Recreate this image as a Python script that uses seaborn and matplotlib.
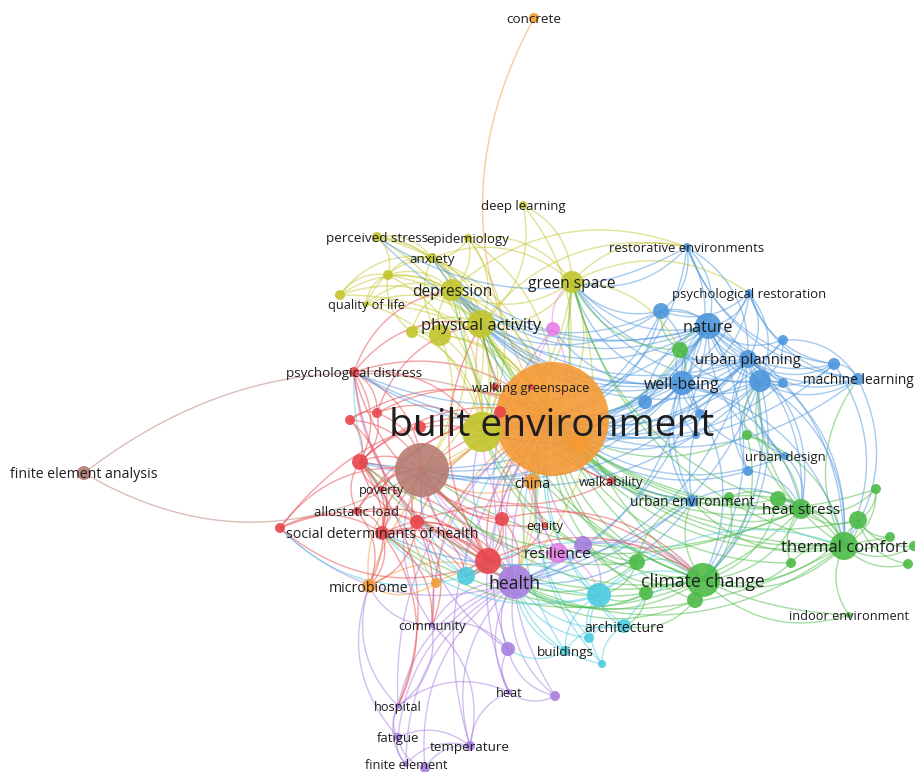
import numpy as np
import pandas as pd
import matplotlib
matplotlib.use("Agg")
import matplotlib.pyplot as plt
from matplotlib.collections import LineCollection
import seaborn as sns

# ---- keyword co-occurrence map: nodes per cluster (id, label, x, y, weight) ----
orange_nodes = [
    ("be", "built environment", 552, 419, 57),
    ("concrete", "concrete", 534, 18, 5),
    ("china", "china", 532, 482, 8),
    ("o1", "", 578, 443, 10),
    ("microbiome", "microbiome", 369, 586, 7),
    ("o2", "", 436, 583, 5),
]
yellow_nodes = [
    ("pa", "physical activity", 481, 324, 14),
    ("y1", "", 440, 335, 11),
    ("y2", "", 412, 332, 6),
    ("dep", "depression", 452, 290, 11),
    ("gs", "green space", 572, 282, 11),
    ("anx", "anxiety", 432, 258, 5),
    ("ps", "perceived stress", 377, 237, 5),
    ("epi", "epidemiology", 468, 238, 4),
    ("dl", "deep learning", 523, 205, 4),
    ("y3", "", 388, 275, 5),
    ("y4", "", 340, 295, 5),
    ("qol", "quality of life", 366, 304, 3),
    ("y5", "", 482, 432, 20),
]
pink_nodes = [
    ("p1", "", 553, 329, 7),
    ("res", "resilience", 558, 553, 10),
]
brown_nodes = [
    ("br", "", 422, 470, 27),
    ("fea", "finite element analysis", 84, 473, 7),
]
red_nodes = [
    ("pd", "psychological distress", 354, 372, 5),
    ("wg", "walking greenspace", 531, 387, 3),
    ("r0", "", 495, 387, 4),
    ("r1", "", 377, 413, 5),
    ("r2", "", 350, 420, 5),
    ("r3", "", 360, 462, 8),
    ("pov", "poverty", 381, 489, 3),
    ("al", "allostatic load", 357, 511, 4),
    ("sdh", "social determinants of health", 382, 533, 7),
    ("r4", "", 280, 528, 5),
    ("r5", "", 417, 522, 7),
    ("r6", "", 502, 519, 7),
    ("r7", "", 500, 412, 6),
    ("r8", "", 420, 427, 6),
    ("walk", "walkability", 611, 481, 4),
    ("equity", "equity", 545, 525, 3),
    ("r9", "", 488, 561, 13),
]
purple_nodes = [
    ("health", "health", 515, 582, 17),
    ("v1", "", 583, 545, 9),
    ("comm", "community", 432, 625, 3),
    ("v2", "", 508, 649, 7),
    ("heat", "heat", 509, 692, 3),
    ("v3", "", 555, 696, 5),
    ("hosp", "hospital", 398, 706, 3),
    ("fat", "fatigue", 398, 737, 4),
    ("temp", "temperature", 470, 746, 5),
    ("fe", "finite element", 406, 764, 3),
    ("v4", "", 425, 768, 5),
]
cyan_nodes = [
    ("c1", "", 466, 576, 9),
    ("c2", "", 599, 595, 12),
    ("arch", "architecture", 624, 626, 7),
    ("c3", "", 589, 638, 5),
    ("bld", "buildings", 565, 651, 5),
    ("c4", "", 602, 664, 4),
]
green_nodes = [
    ("cc", "climate change", 703, 580, 17),
    ("g1", "", 637, 562, 8),
    ("g2", "", 646, 593, 7),
    ("g3", "", 695, 600, 8),
    ("hs", "heat stress", 801, 509, 10),
    ("g4", "", 778, 499, 8),
    ("tc", "thermal comfort", 844, 546, 14),
    ("g5", "", 858, 520, 9),
    ("g6", "", 876, 489, 5),
    ("g7", "", 890, 537, 5),
    ("g8", "", 908, 564, 5),
    ("g9", "", 914, 546, 5),
    ("g10", "", 791, 563, 5),
    ("ie", "indoor environment", 849, 615, 3),
    ("g11", "", 729, 497, 5),
    ("g12", "", 747, 435, 5),
    ("g13", "", 680, 350, 8),
]
blue_nodes = [
    ("nat", "nature", 708, 326, 13),
    ("b1", "", 661, 311, 8),
    ("re", "restorative environments", 687, 247, 4),
    ("pr", "psychological restoration", 749, 293, 4),
    ("up", "urban planning", 748, 359, 9),
    ("b2", "", 760, 381, 11),
    ("b3", "", 783, 340, 5),
    ("b4", "", 783, 383, 5),
    ("b5", "", 834, 364, 6),
    ("ml", "machine learning", 858, 379, 6),
    ("wb", "well-being", 682, 383, 12),
    ("b6", "", 645, 402, 7),
    ("b7", "", 700, 414, 5),
    ("b8", "", 696, 435, 4),
    ("ud", "urban design", 785, 456, 4),
    ("b9", "", 748, 471, 5),
    ("ue", "urban environment", 692, 501, 6),
]

# ---- co-occurrence links: node -> linked nodes ----
links = {
    "concrete": "be",
    "be": "china microbiome o2 pa y1 y2 dep gs anx ps epi dl y3 y4 qol p1 res fea "
          "pd r1 r2 r3 pov al sdh r4 r5 r6 walk equity r9 health v1 comm v2 heat v3 "
          "hosp temp c1 c2 arch c3 bld c4 cc g1 g2 g3 hs g4 tc g5 g6 g7 g10 ie g11 "
          "g12 g13 nat b1 re pr up b2 b3 b4 b5 ml wb b6 b7 b8 ud b9 ue",
    "br": "pa dep gs y1 y5 pd r1 r2 r3 pov al sdh r4 r5 r6 r9 health c1 c2 res cc wb "
          "nat up b2 microbiome o2 comm v2 china walk equity g1 hs",
    "fea": "br",
    "health": "r9 c1 c2 v1 res comm v2 heat v3 hosp fat temp fe v4 bld arch c3 c4 cc g1 "
              "g2 g3 tc hs microbiome o2 sdh r5 r6 pa dep gs wb nat up y5 b2 ue",
    "y5": "pa dep gs anx ps epi y1 y2 y3 qol pd r1 r3 wb nat b1 up cc g1 res health",
    "pa": "dep anx y1 y2 gs epi dl ps y3 y4 qol wb nat b1 up walk china r1 pd "
          "cc hs tc b2 ue r9",
    "dep": "anx ps epi y3 y4 qol y1 y2 gs pd nat wb b1 up hs cc",
    "gs": "dl epi anx p1 nat wb b1 re up b2 g13 cc hs tc",
    "anx": "ps epi y3 y4 qol y1 nat wb",
    "ps": "nat re",
    "y3": "y4 qol ps y2",
    "p1": "res health wb",
    "pd": "nat wb up health c1 r9 r6",
    "re": "pa dep ml b5 gs",
    "pr": "ml b5 gs",
    "nat": "b1 re pr up b2 b3 b4 b5 ml wb b6 b7 g13 ud ue",
    "wb": "b1 re pr up b2 b6 b7 b8 g13 ue ud",
    "up": "b2 b3 b4 b5 ml pr re b1 ud b9 ue",
    "b2": "b3 b4 b5 ml pr ud b9 g12 hs tc",
    "b1": "re pr g13",
    "ml": "b5 b3 tc",
    "cc": "g1 g2 g3 hs g4 tc g5 g10 g11 g12 ie c2 arch v1 res r9 r6 sdh wb nat up b2 c1",
    "tc": "hs g4 g5 g6 g7 g8 g9 g10 ie g11 g12 wb nat up b2 b5 ml c2",
    "hs": "g4 g5 g6 g11 g12 g10 wb nat up ue ud b9",
    "g5": "g6 g7 g8 g9",
    "g13": "nat up wb b2 gs",
    "ue": "cc g1 hs tc",
    "c2": "arch c3 bld c4 c1 v1 res g1 g2",
    "arch": "c3 bld c4 g2 g3",
    "c1": "r5 r6 sdh r9",
    "v1": "g1 cc",
    "r9": "c1 r5 r6 sdh pov al r3 r4 equity",
    "sdh": "r4 r5 al pov r3 r2 cc tc c2 ue",
    "r3": "r1 r2 pd pov al r5 cc wb nat hs",
    "r4": "health c1 r9",
    "r1": "r2 pd",
    "v2": "heat v3 bld comm",
    "heat": "v3 temp hosp",
    "temp": "fe fat v4 comm",
    "hosp": "fat fe comm r3 sdh",
    "fat": "fe v4",
    "comm": "r5 sdh r3",
    "microbiome": "hosp fat comm o2 r5 r3 sdh al",
}

palette = {
    "orange": "#f59a35", "yellow": "#c2c62c", "pink": "#e57ee6",
    "brown": "#b67c72", "red": "#e8464b", "purple": "#a77fe0",
    "cyan": "#4dcbe0", "green": "#4dbb47", "blue": "#4d96dc",
}

groups = {
    "orange": orange_nodes, "yellow": yellow_nodes, "pink": pink_nodes,
    "brown": brown_nodes, "red": red_nodes, "purple": purple_nodes,
    "cyan": cyan_nodes, "green": green_nodes, "blue": blue_nodes,
}
rows = []
for cl, lst in groups.items():
    for nid, lab, x, y, w in lst:
        rows.append(dict(id=nid, label=lab, x=x, y=y, weight=w, cluster=cl))
nodes = pd.DataFrame(rows).set_index("id", drop=False)

# pixel radius -> scatter area in pt^2 (figure at 100 dpi)
nodes["area"] = (2 * nodes["weight"] * 0.72) ** 2

fig = plt.figure(figsize=(9.15, 7.72), dpi=100)
ax = fig.add_axes([0, 0, 1, 1])

# curved links (bending to the right of source -> target)
segs, cols = [], []
t = np.linspace(0, 1, 40)[:, None]
for src, targets in links.items():
    for dst in targets.split():
        p0 = nodes.loc[src, ["x", "y"]].to_numpy(float)
        p2 = nodes.loc[dst, ["x", "y"]].to_numpy(float)
        d = p2 - p0
        L = np.hypot(*d)
        perp = np.array([-d[1], d[0]]) / L
        p1 = (p0 + p2) / 2 + 0.3 * L * perp
        pts = (1 - t) ** 2 * p0 + 2 * (1 - t) * t * p1 + t ** 2 * p2
        segs.append(pts)
        cols.append(palette[nodes.loc[dst, "cluster"]])
lc = LineCollection(segs, colors=cols, linewidths=1.0, alpha=0.5, zorder=1)
ax.add_collection(lc)

order = nodes.sort_values("weight", ascending=False)
amin, amax = order["area"].min(), order["area"].max()
sns.scatterplot(data=order, x="x", y="y", hue="cluster", palette=palette,
                size="area", sizes=(amin, amax), size_norm=(amin, amax),
                alpha=0.9, linewidth=0, legend=False, ax=ax, zorder=3)
ax.set_xlim(0, 915)
ax.set_ylim(772, 0)
ax.axis("off")

for _, n in nodes.iterrows():
    if not n["label"]:
        continue
    r = n["weight"]
    fs = 9.2 + 0.25 * (r - 3) + 0.145 * max(0, r - 20)
    # large labels sit a touch lower so their letter bodies centre on the node
    dy = 0.15 * max(0, fs - 14)
    ax.text(n["x"], n["y"] + dy, n["label"], fontsize=fs, family="Open Sans",
            color="#1e1e1e", ha="center", va="center_baseline", zorder=5)

fig.savefig("out.png", dpi=100, facecolor="white")
